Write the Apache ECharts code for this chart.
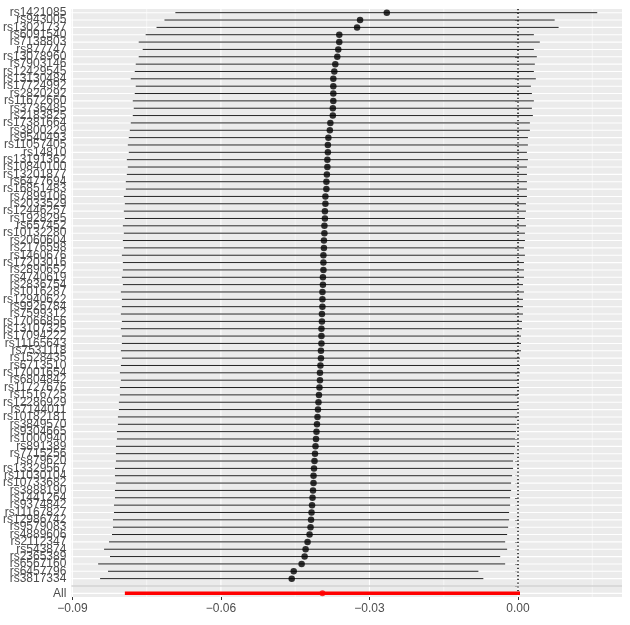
<!DOCTYPE html>
<html><head><meta charset="utf-8">
<script src="https://cdn.jsdelivr.net/npm/echarts@6/dist/echarts.min.js"></script>
<style>html,body{margin:0;padding:0;background:#fff;}#c{width:630px;height:625px;}</style>
</head><body><div id="c"></div>
<script>
// SNPs listed top to bottom as in the picture
const snps = ['rs1421085','rs943005','rs13021737','rs6091540','rs7138803','rs877747','rs13078960','rs7903146','rs12429545','rs13130484',
'rs17724992','rs2820292','rs11672660','rs3736485','rs2183825','rs17381664','rs3800229','rs9540493','rs11057405','rs14810',
'rs13191362','rs10840100','rs13201877','rs6477694','rs16851483','rs7899106','rs2033529','rs12446257','rs1928295','rs657452',
'rs10132280','rs2060604','rs2176598','rs1460676','rs17203016','rs2890652','rs4740619','rs2836754','rs1016287','rs12940622',
'rs9926784','rs7599312','rs17066856','rs13107325','rs17094222','rs11165643','rs7531118','rs1528435','rs6713510','rs17001654',
'rs6804842','rs11727676','rs1516725','rs12286929','rs7144011','rs10182181','rs3849570','rs9304665','rs1000940','rs891389',
'rs7715256','rs879620','rs13329567','rs11030104','rs10733682','rs3888190','rs1441264','rs9374842','rs11167827','rs12986742',
'rs9579083','rs4889606','rs2112347','rs543874','rs2365389','rs6567160','rs6457796','rs3817334'];
const beta = [-0.0265,-0.0319,-0.0325,-0.0361,-0.0361,-0.0363,-0.0365,-0.0369,-0.0371,-0.0373,
-0.0373,-0.0373,-0.0373,-0.0374,-0.0374,-0.0379,-0.0380,-0.0383,-0.0384,-0.0384,
-0.0385,-0.0385,-0.0386,-0.0387,-0.0387,-0.0389,-0.0389,-0.0390,-0.0390,-0.0391,
-0.0391,-0.0392,-0.0392,-0.0393,-0.0393,-0.0393,-0.0394,-0.0394,-0.0395,-0.0395,
-0.0395,-0.0396,-0.0396,-0.0397,-0.0397,-0.0397,-0.0398,-0.0398,-0.0399,-0.0400,
-0.0400,-0.0401,-0.0402,-0.0403,-0.0404,-0.0405,-0.0406,-0.0407,-0.0408,-0.0409,
-0.0410,-0.0411,-0.0412,-0.0413,-0.0413,-0.0414,-0.0415,-0.0416,-0.0417,-0.0418,
-0.0419,-0.0421,-0.0425,-0.0429,-0.0431,-0.0437,-0.0453,-0.0457];
const lower = [-0.0692,-0.0714,-0.0730,-0.0752,-0.0766,-0.0758,-0.0766,-0.0772,-0.0774,-0.0782,
-0.0772,-0.0774,-0.0778,-0.0776,-0.0778,-0.0782,-0.0784,-0.0786,-0.0788,-0.0786,
-0.0790,-0.0788,-0.0790,-0.0792,-0.0792,-0.0796,-0.0794,-0.0796,-0.0794,-0.0798,
-0.0796,-0.0798,-0.0796,-0.0800,-0.0798,-0.0798,-0.0800,-0.0798,-0.0802,-0.0800,
-0.0800,-0.0802,-0.0800,-0.0802,-0.0800,-0.0800,-0.0802,-0.0800,-0.0802,-0.0804,
-0.0802,-0.0804,-0.0804,-0.0806,-0.0806,-0.0808,-0.0808,-0.0810,-0.0810,-0.0812,
-0.0812,-0.0812,-0.0814,-0.0814,-0.0812,-0.0814,-0.0814,-0.0816,-0.0816,-0.0818,
-0.0818,-0.0820,-0.0826,-0.0836,-0.0824,-0.0848,-0.0828,-0.0844];
const upper = [0.0160,0.0074,0.0082,0.0032,0.0044,0.0032,0.0038,0.0034,0.0032,0.0036,
0.0026,0.0028,0.0032,0.0028,0.0030,0.0024,0.0024,0.0020,0.0020,0.0018,
0.0020,0.0018,0.0018,0.0018,0.0018,0.0018,0.0016,0.0016,0.0014,0.0016,
0.0014,0.0014,0.0012,0.0014,0.0012,0.0012,0.0012,0.0010,0.0012,0.0010,
0.0010,0.0010,0.0008,0.0008,0.0006,0.0006,0.0006,0.0004,0.0004,0.0004,
0.0002,0.0002,0.0000,0.0000,-0.0002,-0.0002,-0.0004,-0.0004,-0.0006,-0.0006,
-0.0008,-0.0010,-0.0010,-0.0012,-0.0014,-0.0014,-0.0016,-0.0016,-0.0018,-0.0018,
-0.0020,-0.0022,-0.0026,-0.0022,-0.0036,-0.0026,-0.0080,-0.0070];
const allLabel = 'All';
const allBeta = [-0.0395];
const allLower = [-0.0794];
const allUpper = [0.0004];
const xTicks = [-0.09, -0.06, -0.03, 0];
const xMinorTicks = [-0.075, -0.045, -0.015, 0.015];
const xMin = -0.0902, xMax = 0.0210;

const cats = [allLabel, ''].concat(snps.slice().reverse());

function vline(values, color, width, dash, z) {
  return {
    type: 'custom', silent: true, z: z,
    renderItem: function (params, api) {
      const cs = params.coordSys;
      const p = api.coord([api.value(0), 0]);
      return {type: 'line', shape: {x1: p[0], y1: cs.y, x2: p[0], y2: cs.y + cs.height},
        style: {stroke: color, lineWidth: width, lineDash: dash || null}};
    },
    encode: {x: 0}, data: values.map(v => [v])
  };
}
function hline(names, color, width, z) {
  return {
    type: 'custom', silent: true, z: z,
    renderItem: function (params, api) {
      const cs = params.coordSys;
      const p = api.coord([xMin, api.value(0)]);
      return {type: 'line', shape: {x1: cs.x, y1: p[1], x2: cs.x + cs.width, y2: p[1]},
        style: {stroke: color, lineWidth: width}};
    },
    encode: {y: 0}, data: names.map(n => [n])
  };
}
function errbars(lo, hi, names, color, width, z) {
  return {
    type: 'custom', silent: true, z: z,
    renderItem: function (params, api) {
      const a = api.coord([api.value(0), api.value(2)]);
      const b = api.coord([api.value(1), api.value(2)]);
      return {type: 'line', shape: {x1: a[0], y1: a[1], x2: b[0], y2: b[1]},
        style: {stroke: color, lineWidth: width}};
    },
    encode: {x: [0, 1], y: 2}, data: names.map((n, i) => [lo[i], hi[i], n])
  };
}

const chart = echarts.init(document.getElementById('c'), null, {renderer: 'canvas'});
const font = "'Liberation Sans', Arial, Helvetica, sans-serif";
chart.setOption({
  animation: false,
  backgroundColor: '#ffffff',
  grid: {left: 65, right: 8, top: 9, bottom: 28, show: true, backgroundColor: '#EBEBEB', borderWidth: 0},
  xAxis: {
    type: 'value', min: xMin, max: xMax,
    axisLine: {show: false}, splitLine: {show: false},
    axisTick: {show: true, length: 3, lineStyle: {color: '#333333', width: 1}, customValues: xTicks},
    axisLabel: {customValues: xTicks, color: '#4D4D4D', fontSize: 12, fontFamily: font, margin: 6,
      formatter: v => (Math.abs(v) < 1e-9 ? '0.00' : (v < 0 ? '\u2212' : '') + Math.abs(v).toFixed(2))}
  },
  yAxis: {
    type: 'category', data: cats,
    axisLine: {show: false}, splitLine: {show: false},
    axisTick: {show: true, length: 3, alignWithLabel: true, interval: 0, lineStyle: {color: '#333333', width: 1}},
    axisLabel: {interval: 0, color: '#4D4D4D', fontSize: 12, fontFamily: font, margin: 5}
  },
  series: [
    vline(xMinorTicks, '#ffffff', 0.55, null, 1),
    vline(xTicks, '#ffffff', 1.1, null, 1),
    hline(cats, '#ffffff', 1.1, 1),
    vline([0], '#000000', 1.4, [1.3, 2.4], 2),
    hline([''], '#BEBEBE', 1.1, 2),
    errbars(lower, upper, snps, '#222222', 1, 3),
    errbars(allLower, allUpper, [allLabel], '#FF0000', 3.5, 3),
    {type: 'scatter', z: 4, symbol: 'circle', symbolSize: 6.5, itemStyle: {color: '#000000'},
     data: snps.map((n, i) => [beta[i], n])},
    {type: 'scatter', z: 4, symbol: 'circle', symbolSize: 6, itemStyle: {color: '#FF0000'},
     data: [[allBeta[0], allLabel]]}
  ]
});
</script></body></html>
